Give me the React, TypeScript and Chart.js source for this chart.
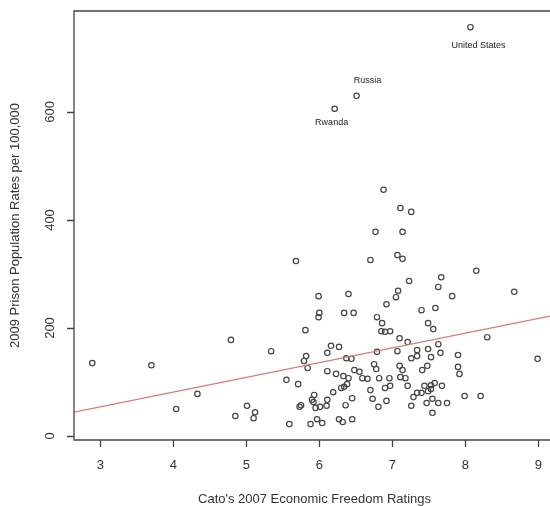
import React, { useEffect, useRef } from "react";
import { Chart, registerables } from "chart.js";

Chart.register(...registerables);

// Cato 2007 Economic Freedom rating per country
const freedomRatings: number[] = [
  2.89, 3.70, 4.04, 4.33, 4.79, 4.85, 5.01, 5.12, 5.10, 5.34,
  5.55, 5.59, 5.68, 5.71, 5.73, 5.75, 5.79, 5.81, 5.82, 5.84,
  5.88, 5.90, 5.92, 5.93, 5.95, 5.97, 5.99, 6.00, 5.99, 6.01,
  6.04, 6.10, 6.11, 6.11, 6.11, 6.16, 6.19, 6.23, 6.27, 6.27,
  6.32, 6.30, 6.33, 6.34, 6.38, 6.34, 6.37, 6.36, 6.40, 6.40,
  6.44, 6.45, 6.45, 6.47, 6.48, 6.55, 6.59, 6.66, 6.70, 6.70,
  6.73, 6.77, 6.75, 6.78, 6.79, 6.79, 6.82, 6.81, 6.85, 6.90,
  6.97, 6.86, 6.92, 6.88, 6.90, 6.96, 6.97, 6.92, 7.05, 7.08,
  7.07, 7.14, 7.14, 7.11, 7.26, 7.07, 7.10, 7.10, 7.14, 7.11,
  7.18, 7.21, 7.21, 7.23, 7.26, 7.34, 7.34, 7.26, 7.29, 7.34,
  7.40, 7.49, 7.53, 7.44, 7.53, 7.58, 7.68, 7.47, 7.55, 7.63,
  7.75, 7.55, 7.41, 7.48, 7.49, 7.53, 7.63, 7.66, 7.49, 7.56,
  7.40, 7.59, 7.63, 7.67, 7.82, 7.90, 7.90, 7.92, 7.99, 8.21,
  8.15, 8.30, 8.67, 8.99, 8.07, 6.51, 6.21,
];

// 2009 prison population rate per 100,000
const prisonRates: number[] = [
  135, 131, 50, 78, 178, 37, 56, 44, 33, 157,
  104, 22, 324, 96, 54, 57, 139, 196, 148, 126,
  22, 67, 63, 76, 52, 31, 259, 228, 220, 54,
  24, 56, 67, 154, 120, 167, 81, 115, 165, 31,
  26, 89, 111, 91, 96, 228, 144, 57, 263, 107,
  143, 70, 31, 228, 122, 119, 107, 106, 85, 326,
  69, 378, 133, 124, 220, 156, 107, 54, 194, 193,
  194, 209, 244, 456, 89, 107, 93, 65, 257, 269,
  335, 328, 378, 422, 415, 157, 181, 130, 122, 109,
  107, 93, 174, 287, 144, 148, 159, 56, 72, 80,
  80, 83, 87, 93, 94, 98, 93, 61, 69, 61,
  61, 43, 122, 130, 161, 146, 170, 154, 209, 198,
  233, 237, 276, 294, 259, 150, 128, 115, 74, 74,
  306, 183, 267, 143, 757, 630, 606,
];

// Labelled countries: index into the arrays above
const labelNames: string[] = ["United States", "Russia", "Rwanda"];
const labelIndex: number[] = [134, 135, 136];
const labelOffsetX: number[] = [8, 11, -3];
const labelOffsetY: number[] = [18, -15, 14];

// Least-squares line (intercept, slope)
const fitIntercept = -28;
const fitSlope = 27.3;

const xTicks: number[] = [3, 4, 5, 6, 7, 8, 9];
const yTicks: number[] = [0, 200, 400, 600];

const xTitle = "Cato's 2007 Economic Freedom Ratings";
const yTitle = "2009 Prison Population Rates per 100,000";

const X_MIN = 2.64;
const X_MAX = 9.16;
const Y_MIN = -7.4;
const Y_MAX = 787;

const FONT = "'Liberation Sans', Arial, Helvetica, sans-serif";

const axesPlugin = {
  id: "rAxes",
  afterDraw(chart: any) {
    const { ctx, chartArea, scales } = chart;
    const xs = scales.x;
    const ys = scales.y;
    const { left, top, right, bottom } = chartArea;
    ctx.save();
    ctx.strokeStyle = "#444";
    ctx.lineWidth = 1.3;
    ctx.beginPath();
    ctx.moveTo(right + 5, top);
    ctx.lineTo(left, top);
    ctx.lineTo(left, bottom);
    ctx.lineTo(right + 5, bottom);
    ctx.stroke();

    // ticks
    ctx.beginPath();
    xTicks.forEach((v) => {
      const px = Math.round(xs.getPixelForValue(v)) + 0.5;
      ctx.moveTo(px, bottom);
      ctx.lineTo(px, bottom + 7);
    });
    yTicks.forEach((v) => {
      const py = Math.round(ys.getPixelForValue(v)) + 0.5;
      ctx.moveTo(left, py);
      ctx.lineTo(left - 7, py);
    });
    ctx.stroke();

    ctx.fillStyle = "#333";
    ctx.font = `13px ${FONT}`;
    ctx.textAlign = "center";
    ctx.textBaseline = "middle";
    xTicks.forEach((v) => {
      ctx.fillText(String(v), xs.getPixelForValue(v), bottom + 25);
    });
    yTicks.forEach((v) => {
      const py = ys.getPixelForValue(v);
      ctx.save();
      ctx.translate(left - 24, py);
      ctx.rotate(-Math.PI / 2);
      ctx.fillText(String(v), 0, 0);
      ctx.restore();
    });

    ctx.fillText(xTitle, (left + right + 5) / 2, bottom + 59);
    ctx.save();
    ctx.translate(15, (top + bottom) / 2);
    ctx.rotate(-Math.PI / 2);
    ctx.fillText(yTitle, 0, 0);
    ctx.restore();

    // country labels
    ctx.fillStyle = "#222";
    ctx.font = `9px ${FONT}`;
    labelNames.forEach((name, i) => {
      const k = labelIndex[i];
      const px = xs.getPixelForValue(freedomRatings[k]) + labelOffsetX[i];
      const py = ys.getPixelForValue(prisonRates[k]) + labelOffsetY[i];
      ctx.fillText(name, px, py);
    });
    ctx.restore();
  },
};

export default function App() {
  const ref = useRef<HTMLCanvasElement | null>(null);
  useEffect(() => {
    document.body.style.margin = "0";
    document.body.style.overflow = "hidden";
    const canvas = ref.current;
    if (!canvas) return;
    const points = freedomRatings.map((x, i) => ({ x, y: prisonRates[i] }));
    const chart = new Chart(canvas, {
      type: "scatter",
      data: {
        datasets: [
          {
            type: "line",
            data: [
              { x: X_MIN, y: fitIntercept + fitSlope * X_MIN },
              { x: X_MAX, y: fitIntercept + fitSlope * X_MAX },
            ],
            borderColor: "#d9797c",
            borderWidth: 1.2,
            pointRadius: 0,
            fill: false,
          } as any,
          {
            type: "scatter",
            data: points,
            pointStyle: "circle",
            pointRadius: 2.7,
            borderWidth: 1.2,
            borderColor: "#444",
            backgroundColor: "rgba(0,0,0,0)",
          },
        ],
      },
      options: {
        responsive: false,
        animation: false,
        layout: { autoPadding: false, padding: { left: 74, top: 11, right: 0, bottom: 66 } },
        plugins: { legend: { display: false }, tooltip: { enabled: false } },
        scales: {
          x: { type: "linear", min: X_MIN, max: X_MAX, display: false },
          y: { type: "linear", min: Y_MIN, max: Y_MAX, display: false },
        },
      },
      plugins: [axesPlugin],
    });
    return () => chart.destroy();
  }, []);
  return <canvas ref={ref} width={550} height={506} style={{ display: "block" }} />;
}
